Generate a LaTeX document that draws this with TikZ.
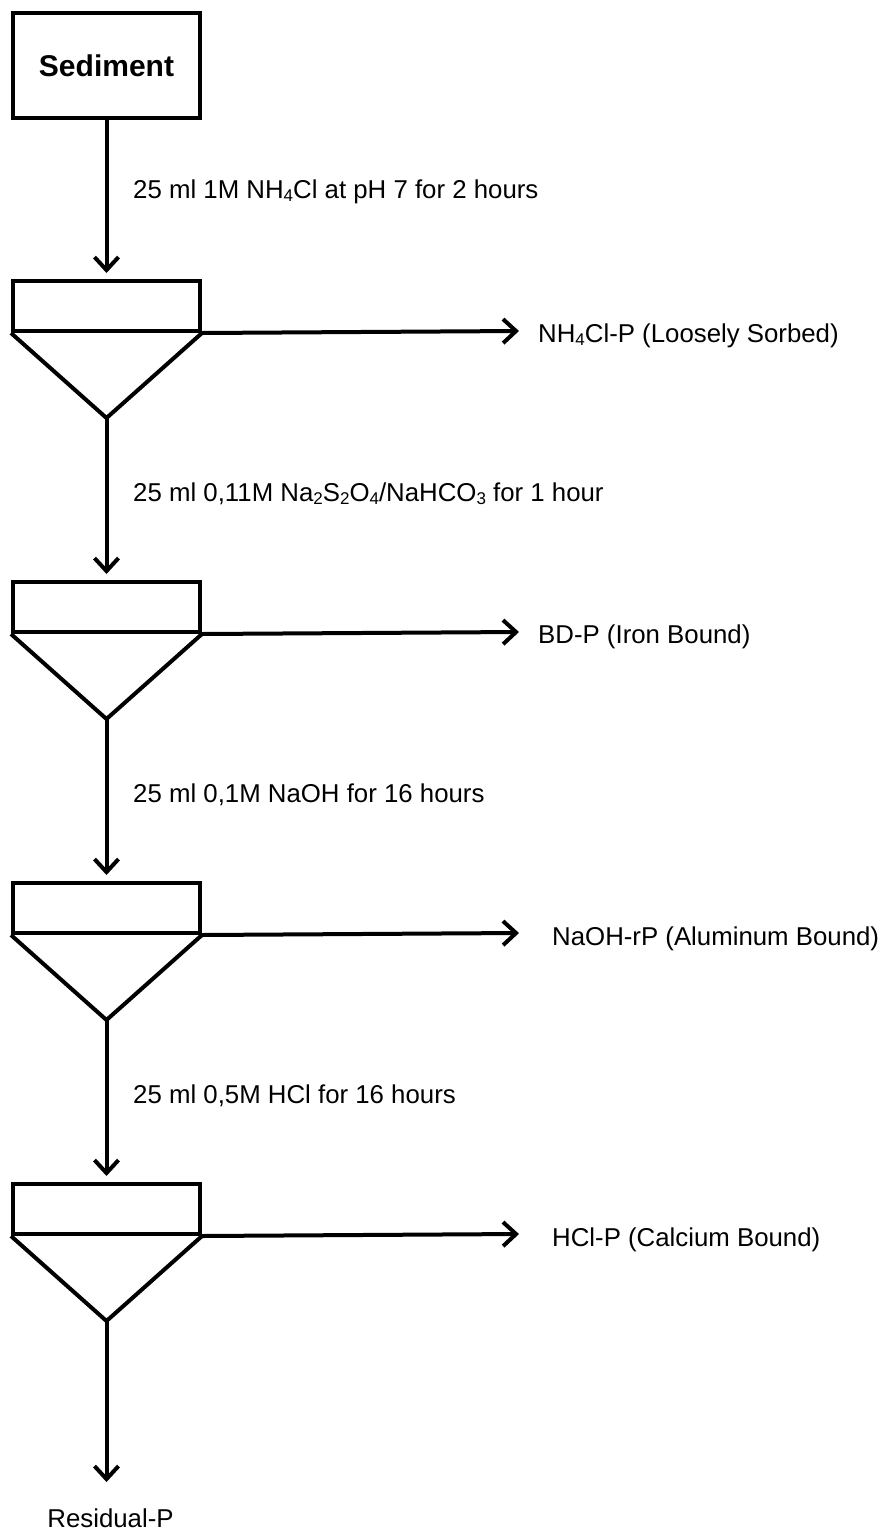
\documentclass[tikz,border=0pt]{standalone}
\usepackage{fontspec}
\setmainfont{Liberation Sans}
\usetikzlibrary{arrows.meta}
\newcommand{\lowsub}[1]{\raisebox{-0.2ex}{\fontsize{17pt}{17pt}\selectfont #1}}
\begin{document}
\begin{tikzpicture}[x=1pt,y=-1pt,
  thick line/.style={line width=4pt},
  arr/.style={thick line,-{Straight Barb[length=13pt,width=24pt]}},
  unitbox/.style={draw,thick line,minimum width=187pt,minimum height=50pt,inner sep=0pt},
  lbl/.style={anchor=west,inner sep=0pt,font=\fontsize{25.8pt}{30pt}\selectfont},
]
\useasboundingbox (0,0) rectangle (885,1531);
\node[draw,thick line,minimum width=187pt,minimum height=105pt,inner sep=0pt,
  font=\fontsize{30pt}{34pt}\selectfont\bfseries] (sed) at (106.5,65.5) {Sediment};
\foreach \k in {1,2,3,4}{
  \pgfmathsetmacro{\yy}{306+301*(\k-1)}
  \node[unitbox] (u\k) at (106.5,\yy) {};
  \coordinate (a\k) at (106.5,\yy+112);
  \coordinate (t\k) at (519,\yy+25);
  \draw[thick line,line join=miter] (u\k.south west) -- (a\k) -- (u\k.south east);
}
% reagents
\node[lbl] (r1) at (133,192) {25 ml 1M NH\lowsub{4}Cl at pH 7 for 2 hours};
\node[lbl] (r2) at (133,494) {25 ml 0,11M Na\lowsub{2}S\lowsub{2}O\lowsub{4}/NaHCO\lowsub{3} for 1 hour};
\node[lbl] (r3) at (133,795) {25 ml 0,1M NaOH for 16 hours};
\node[lbl] (r4) at (133,1096) {25 ml 0,5M HCl for 16 hours};
% fractions
\node[lbl] (f1) at (538,336) {NH\lowsub{4}Cl-P (Loosely Sorbed)};
\node[lbl] (f2) at (538,637) {BD-P (Iron Bound)};
\node[lbl] (f3) at (552,939) {NaOH-rP (Aluminum Bound)};
\node[lbl] (f4) at (552,1240) {HCl-P (Calcium Bound)};
\node[lbl,anchor=center] (res) at (110.5,1518) {Residual-P};
\coordinate (e) at (106.5,1482);
% connectors
\draw[arr,shorten >=6pt] (sed.south) -- (u1.north);
\draw[arr,shorten >=6pt] (a1) -- (u2.north);
\draw[arr,shorten >=6pt] (a2) -- (u3.north);
\draw[arr,shorten >=6pt] (a3) -- (u4.north);
\draw[arr] (a4) -- (e);
\foreach \k in {1,2,3,4}{
  \draw[arr] (u\k.south east) -- (t\k);
}
\end{tikzpicture}
\end{document}
